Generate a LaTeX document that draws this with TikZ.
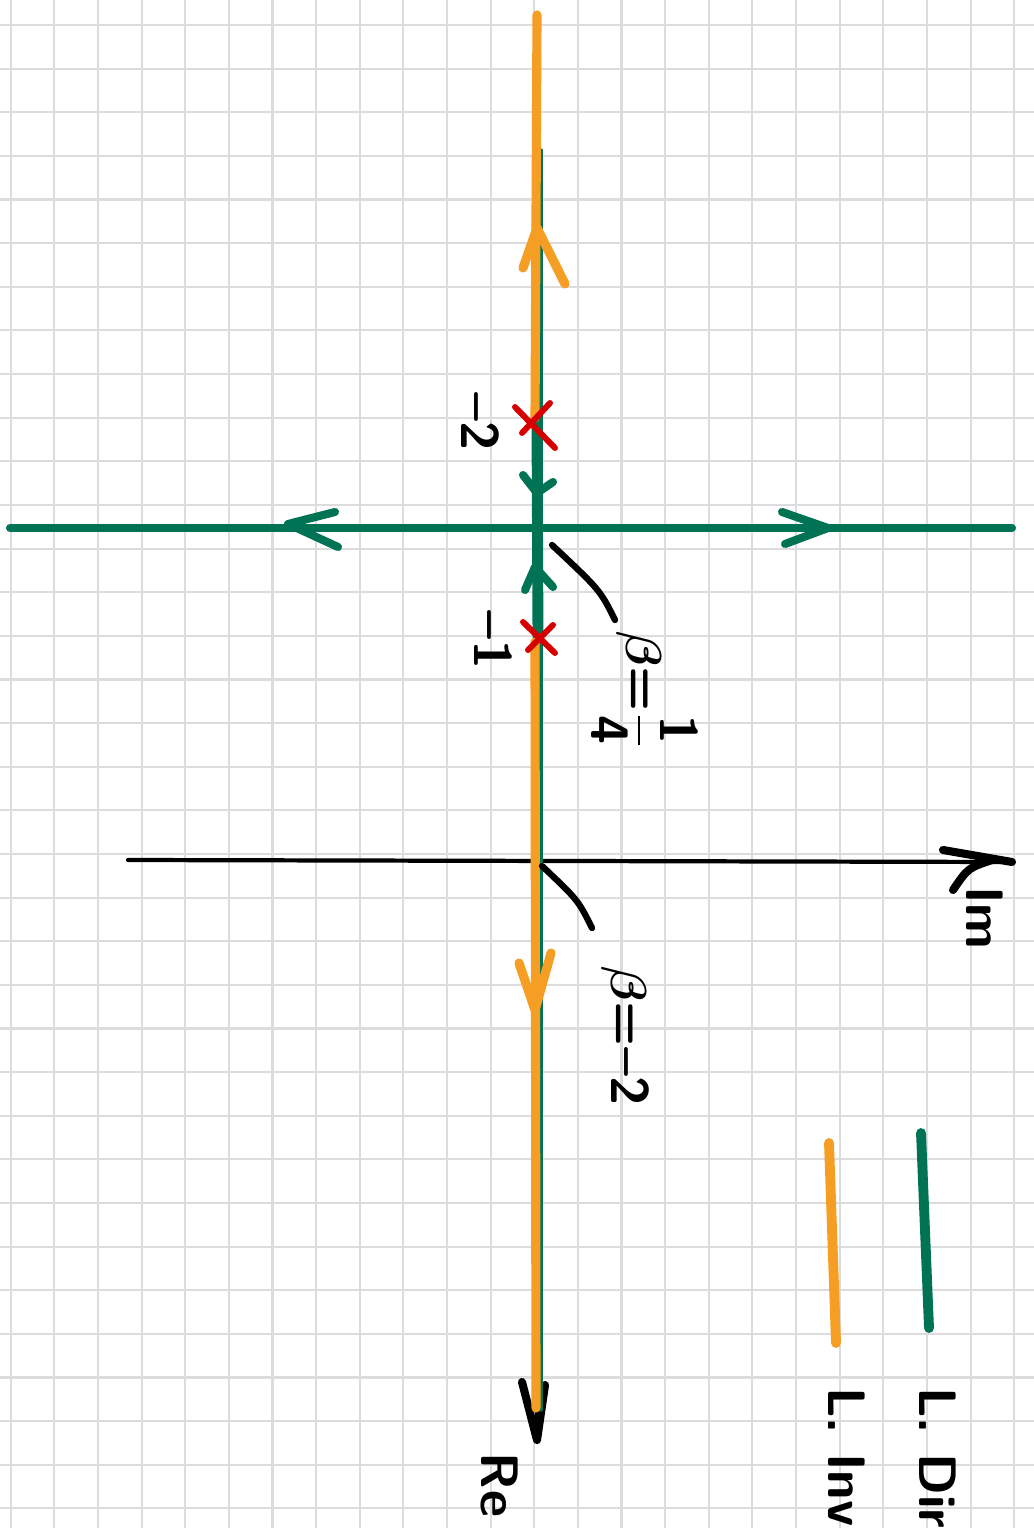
\documentclass[tikz,border=0pt]{standalone}
\usepackage{tikz}
\usepackage{amsmath}
\usepackage{bm}
\definecolor{gridgray}{RGB}{220,220,223}
\definecolor{locgreen}{RGB}{0,115,85}
\definecolor{locorange}{RGB}{245,158,35}
\definecolor{polered}{RGB}{215,0,0}
\tikzset{
  grd/.style={draw=gridgray, line width=0.6pt},
  axs/.style={draw=black, line width=1.2pt, line cap=round, line join=round},
  tip/.style={axs, line width=2.3pt},
  dir/.style={draw=locgreen, line width=2.3pt, line cap=round, line join=round},
  inv/.style={draw=locorange, line width=2.6pt, line cap=round, line join=round},
  pole/.style={draw=polered, line width=1.7pt, line cap=round},
  lab/.style={rotate=-90, inner sep=1pt, font=\sffamily\bfseries\fontsize{15}{18}\selectfont}
}
\newcommand{\bb}{$\bm{\beta}$}
\begin{document}
\begin{tikzpicture}[x=0.01cm, y=-0.01cm]
	\useasboundingbox (0,0) rectangle (1034,1528);
	\clip (0,0) rectangle (1034,1528);
	\fill[white] (0,0) rectangle (1034,1528);
	% squared paper
	\foreach \k in {0,...,23} \draw[grd] ({10.7+43.63*\k},0) -- ({10.7+43.63*\k},1528);
	\foreach \k in {0,...,34} \draw[grd] (0,{25+43.63*\k}) -- (1034,{25+43.63*\k});
	% points of the locus
	\coordinate (O) at (538,860);
	\coordinate (Ptwo) at (537,425);
	\coordinate (Pone) at (538,637);
	\coordinate (B) at (538,528);
	\coordinate (ImL) at (128,860);
	\coordinate (ImR) at (1012,862);
	\coordinate (ReT) at (538,20);
	\coordinate (ReB) at (537,1440);
	\coordinate (BL) at (10,528);
	\coordinate (BR) at (1012,528);
	% axes
	\draw[axs] (ImL) -- (ImR);
	\draw[axs] (ReT) -- (ReB);
	\draw[tip] (943,850) -- (ImR);
	\draw[tip] (953,890) .. controls (968,868) .. (992,860);
	\draw[tip] (522,1382) -- (ReB) -- (545,1385);
	% direct locus
	\draw[dir, line width=0.9pt] (541,150) -- (541,1410);
	\draw[dir] (BL) -- (BR);
	\draw[dir, line width=3.1pt] (Ptwo) -- (Pone);
	\draw[dir] (523,475) -- (537,493) -- (553,482);
	\draw[dir] (525,590) -- (535,567) -- (553,587);
	\draw[dir] (335,512) -- (288,524) -- (338,547);
	\draw[dir] (782,512) -- (828,528) -- (785,544);
	% inverse locus
	\draw[inv] (537,15) -- (535,418);
	\draw[inv] (535,642) -- (536,1408);
	\draw[inv] (523,268) -- (537,228) -- (565,284);
	\draw[inv] (519,963) -- (535,1010) -- (551,953);
	% poles
	\draw[pole] (515,407) -- (555,448) (550,403) -- (522,433);
	\draw[pole] (523,622) -- (555,653) (553,625) -- (528,650);
	% labels
	\node[lab] (lPtwo) at (480,422) {--2};
	\node[lab] (lPone) at (493,640) {--1};
	\node[lab] (lBq) at (645,690) {\bb=$\dfrac{\textbf{1}}{\textbf{4}}$};
	\node[lab] (lBm) at (625,1036) {\bb=--2};
	\node[lab] (lIm) at (985,918) {Im};
	\node[lab] (lRe) at (500,1485) {Re};
	\coordinate (qA) at (552,545);
	\coordinate (qB) at (615,620);
	\coordinate (mA) at (542,866);
	\coordinate (mB) at (592,928);
	\draw[axs, line width=1.8pt] (qA) .. controls (600,590) .. (qB);
	\draw[axs, line width=1.8pt] (mA) .. controls (578,900) .. (mB);
	% legend
	\draw[inv, line width=2.8pt] (829,1143) -- (836,1343);
	\draw[dir, line width=2.8pt] (921,1133) -- (929,1328);
	\node[lab, anchor=west] (lInv) at (847,1383) {L. Inv};
	\node[lab, anchor=west] (lDir) at (938,1383) {L. Dir};
\end{tikzpicture}
\end{document}
